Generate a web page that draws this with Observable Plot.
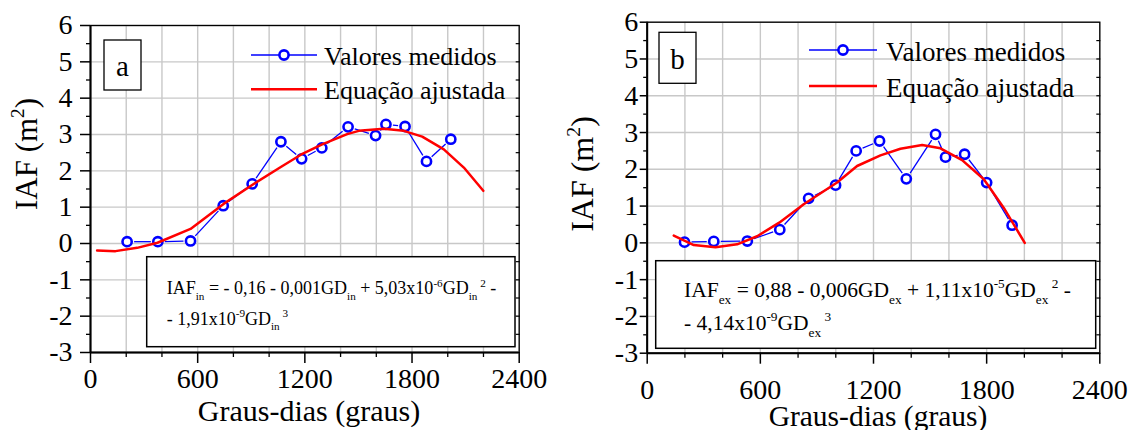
<!DOCTYPE html>
<html><head><meta charset="utf-8">
<script src="https://cdn.jsdelivr.net/npm/d3@7"></script>
<script src="https://cdn.jsdelivr.net/npm/@observablehq/plot@0.6"></script>
<style>
body{margin:0;background:#fff;}
#wrap{position:relative;width:1134px;height:430px;overflow:hidden;}
#wrap > svg{position:absolute;top:0;}
text{white-space:pre;}
</style></head><body><div id="wrap"></div>
<script>
// ---------- data ----------
const gdA  = [205, 377, 560, 743, 905, 1066, 1182, 1295, 1442, 1596, 1654, 1761, 1881, 2017];
const iafA = [0.05, 0.05, 0.07, 1.04, 1.64, 2.80, 2.33, 2.63, 3.21, 2.97, 3.28, 3.22, 2.26, 2.87];
const fitGdA  = [37, 140, 261, 375, 560, 745, 905, 1070, 1180, 1297, 1437, 1502, 1642, 1754, 1857, 1978, 2090, 2199];
const fitIafA = [-0.19, -0.21, -0.12, 0.02, 0.40, 1.09, 1.61, 2.12, 2.45, 2.73, 3.01, 3.10, 3.16, 3.10, 2.94, 2.59, 2.09, 1.45];

const gdB  = [198, 353, 531, 703, 856, 999, 1108, 1232, 1374, 1529, 1582, 1683, 1800, 1935];
const iafB = [0.02, 0.04, 0.05, 0.36, 1.21, 1.57, 2.50, 2.77, 1.74, 2.95, 2.33, 2.41, 1.64, 0.48];
const fitGdB  = [141, 247, 362, 477, 583, 700, 830, 1007, 1113, 1237, 1343, 1458, 1555, 1670, 1785, 1891, 2002];
const fitIafB = [0.20, -0.06, -0.12, -0.04, 0.18, 0.55, 1.05, 1.64, 2.09, 2.38, 2.56, 2.66, 2.57, 2.25, 1.73, 0.95, 0.00];

const xMajorTicks = [0, 600, 1200, 1800, 2400];
const xMinorTicks = [200, 400, 800, 1000, 1400, 1600, 2000, 2200];
const xGridTicks  = [0, 200, 400, 600, 800, 1000, 1200, 1400, 1600, 1800, 2000, 2200, 2400];
const yMajorTicks = [-3, -2, -1, 0, 1, 2, 3, 4, 5, 6];
const yMinorTicks = [-2.5, -1.5, -0.5, 0.5, 1.5, 2.5, 3.5, 4.5, 5.5];
const yRightTicks = [-2.5, -2, -1.5, -1, -0.5, 0, 0.5, 1, 1.5, 2, 2.5, 3, 3.5, 4, 4.5, 5, 5.5];

const legendLabels = ["Valores medidos", "Equação ajustada"];
const xTitle = "Graus-dias (graus)";
const yTitleParts = [["IAF (m", ""], ["2", "sup"], [")", ""]];
const eqA1 = [["IAF",""],["in","sub"],[" = - 0,16 - 0,001GD",""],["in","sub"],[" + 5,03x10",""],["-6","sup"],["GD",""],["in","sub"],[" 2","sup"],[" -",""]];
const eqA2 = [["- 1,91x10",""],["-9","sup"],["GD",""],["in","sub"],[" 3","sup"]];
const eqB1 = [["IAF",""],["ex","sub"],[" = 0,88 - 0,006GD",""],["ex","sub"],[" + 1,11x10",""],["-5","sup"],["GD",""],["ex","sub"],[" 2","sup"],[" -",""]];
const eqB2 = [["- 4,14x10",""],["-9","sup"],["GD",""],["ex","sub"],[" 3","sup"]];

// ---------- drawing ----------
const FONT = "'Liberation Serif', 'Times New Roman', serif";
const BLUE = "#0000ff", RED = "#ff0000", GRID = "#c8c8c8";

function txt(g, x, y, size, anchor) {
  return g.append("text").attr("x", x).attr("y", y)
    .style("font-family", FONT).style("font-size", size + "px")
    .attr("fill", "black").attr("text-anchor", anchor || "start");
}

function richText(g, x, y, parts, size, anchor) {
  const t = txt(g, x, y, size, anchor);
  let cur = 0;
  for (const [s, kind] of parts) {
    let shift = 0, fs = size;
    if (kind === "sub") { shift = 0.33 * size; fs = 0.62 * size; }
    if (kind === "sup") { shift = -0.42 * size; fs = 0.62 * size; }
    t.append("tspan").attr("dy", shift - cur).style("font-size", fs + "px").text(s);
    cur = shift;
  }
  return t;
}

function panel(c) {
  const meas = c.gd.map((x, i) => ({x, y: c.iaf[i]}));
  const fit = c.fitGd.map((x, i) => ({x, y: c.fitIaf[i]}));
  const segs = d3.pairs(meas).map(([a, b]) => ({x1: a.x, y1: a.y, x2: b.x, y2: b.y}));

  const decorations = () => {
    const g = d3.create("svg:g").attr("text-anchor", "start");
    // letter box
    g.append("rect").attr("x", c.lab.x).attr("y", c.lab.y).attr("width", c.lab.w).attr("height", c.lab.h)
      .attr("fill", "white").attr("stroke", "black").attr("stroke-width", 1.3);
    txt(g, c.lab.x + c.lab.w / 2, c.lab.ty, c.lab.size, "middle").text(c.letter);
    // equation box
    g.append("rect").attr("x", c.eq.x).attr("y", c.eq.y).attr("width", c.eq.w).attr("height", c.eq.h)
      .attr("fill", "white").attr("stroke", "black").attr("stroke-width", 1.5);
    richText(g, c.eq.tx, c.eq.ty1, c.eq1, c.eq.size);
    richText(g, c.eq.tx, c.eq.ty2, c.eq2, c.eq.size);
    // legend
    const L = c.leg;
    g.append("line").attr("x1", L.x1).attr("x2", L.x2).attr("y1", L.y1).attr("y2", L.y1)
      .attr("stroke", BLUE).attr("stroke-width", 1.3);
    g.append("circle").attr("cx", (L.x1 + L.x2) / 2).attr("cy", L.y1).attr("r", 4.6)
      .attr("fill", "white").attr("stroke", BLUE).attr("stroke-width", 2.6);
    g.append("line").attr("x1", L.x1).attr("x2", L.x2).attr("y1", L.y2).attr("y2", L.y2)
      .attr("stroke", RED).attr("stroke-width", 2.5);
    txt(g, L.tx, L.y1 + L.dy, L.size).text(legendLabels[0]);
    txt(g, L.tx, L.y2 + L.dy, L.size).text(legendLabels[1]);
    // axis titles
    richText(g, 0, 0, yTitleParts, c.yt.size, "middle")
      .attr("transform", `translate(${c.yt.x},${c.yt.y}) rotate(-90)`);
    txt(g, c.xt.x, c.xt.y, c.xt.size, "middle").text(xTitle);
    return g.node();
  };

  return Plot.plot({
    width: c.width, height: 430,
    marginLeft: c.ml, marginRight: c.mr, marginTop: c.mt, marginBottom: c.mb,
    style: {fontFamily: FONT, color: "black", background: "transparent", overflow: "visible"},
    x: {domain: [0, 2400]},
    y: {domain: [-3, 6]},
    marks: [
      Plot.gridX(xGridTicks, {stroke: GRID, strokeOpacity: 1, strokeWidth: 1.4}),
      Plot.gridY(yMajorTicks, {stroke: GRID, strokeOpacity: 1, strokeWidth: 1.4}),
      Plot.arrow(segs, {x1: "x1", y1: "y1", x2: "x2", y2: "y2", stroke: BLUE, strokeWidth: 1.3,
        headLength: 0, inset: 7, strokeLinecap: "butt"}),
      Plot.dot(meas, {x: "x", y: "y", r: 4.6, stroke: BLUE, strokeWidth: 2.6, fill: "white"}),
      Plot.line(fit, {x: "x", y: "y", stroke: RED, strokeWidth: 2.5}),
      Plot.frame({stroke: "black", strokeWidth: 1.3}),
      Plot.ruleX([0], {stroke: "black", strokeWidth: 2}),
      Plot.ruleY([-3], {stroke: "black", strokeWidth: 2}),
      Plot.axisY(yMajorTicks, {anchor: "left", tickSize: c.yTick, tickPadding: c.yPad, fontSize: 28,
        label: null, tickFormat: d => String(d), strokeWidth: 1.5}),
      Plot.axisY(yMinorTicks, {anchor: "left", tickSize: c.yMinor, tickFormat: () => "", label: null, strokeWidth: 1.3}),
      Plot.axisY(yRightTicks, {anchor: "right", tickSize: -4, tickFormat: () => "", label: null, strokeWidth: 1.2}),
      Plot.axisX(xMajorTicks, {anchor: "bottom", tickSize: 11, tickPadding: c.xPad, fontSize: 28,
        label: null, tickFormat: d => String(d), strokeWidth: 1.5}),
      Plot.axisX(xMinorTicks, {anchor: "bottom", tickSize: 5, tickFormat: () => "", label: null, strokeWidth: 1.3}),
      decorations
    ]
  });
}

const svgA = panel({
  gd: gdA, iaf: iafA, fitGd: fitGdA, fitIaf: fitIafA, letter: "a",
  width: 560, ml: 90, mr: 41.3, mt: 25, mb: 78,
  yTick: 10, yPad: 8, yMinor: 4, xPad: 5,
  yt: {x: 37, y: 154, size: 31}, xt: {x: 309, y: 421, size: 30},
  leg: {x1: 251, x2: 317, y1: 55, y2: 89.3, tx: 324, dy: 9.5, size: 26},
  lab: {x: 104, y: 40, w: 37, h: 50, ty: 76, size: 29},
  eq: {x: 146.7, y: 256.7, w: 368.3, h: 90, tx: 166.7, ty1: 294.3, ty2: 324.5, size: 18},
  eq1: eqA1, eq2: eqA2
});
svgA.style.left = "0px";

const svgB = panel({
  gd: gdB, iaf: iafB, fitGd: fitGdB, fitIaf: fitIafB, letter: "b",
  width: 574, ml: 86.7, mr: 34.7, mt: 21.7, mb: 77.3,
  yTick: 7, yPad: 2, yMinor: 3.5, xPad: 15,
  yt: {x: 33, y: 174, size: 32}, xt: {x: 318, y: 426, size: 29.5},
  leg: {x1: 249, x2: 317, y1: 50, y2: 86, tx: 326, dy: 10.5, size: 27},
  lab: {x: 99, y: 32.3, w: 37, h: 51, ty: 69, size: 29},
  eq: {x: 95.7, y: 260.7, w: 440, h: 87.6, tx: 124, ty1: 296.7, ty2: 330, size: 21.5},
  eq1: eqB1, eq2: eqB2
});
svgB.style.left = "560px";

document.getElementById("wrap").append(svgA, svgB);
</script>
</body></html>
